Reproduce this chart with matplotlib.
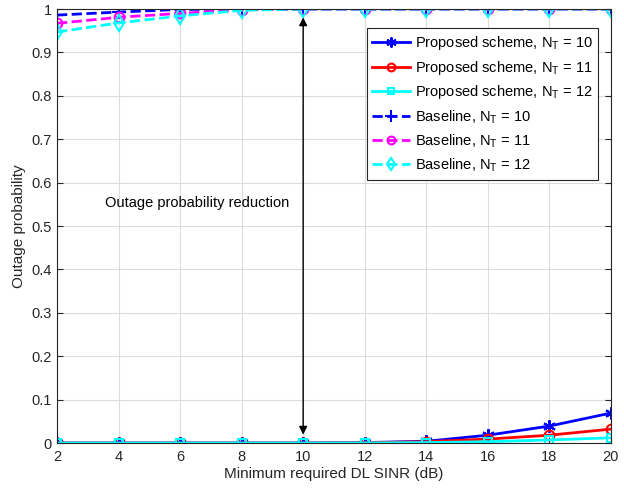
import numpy as np
import matplotlib
matplotlib.use("Agg")
import matplotlib.pyplot as plt

sinr = [2, 4, 6, 8, 10, 12, 14, 16, 18, 20]

prop_10 = [0, 0, 0, 0, 0, 0.001, 0.004, 0.018, 0.039, 0.069]
prop_11 = [0, 0, 0, 0, 0, 0.0005, 0.003, 0.009, 0.018, 0.032]
prop_12 = [0, 0, 0, 0, 0, 0.0002, 0.001, 0.003, 0.007, 0.012]

base_10 = [0.986, 0.993, 0.999, 1.0, 1.0, 1.0, 1.0, 1.0, 1.0, 1.0]
base_11 = [0.967, 0.981, 0.990, 0.998, 1.0, 1.0, 1.0, 1.0, 1.0, 1.0]
base_12 = [0.947, 0.968, 0.984, 0.997, 1.0, 1.0, 1.0, 1.0, 1.0, 1.0]

labels = ["Proposed scheme, N$_\\mathrm{T}$ = 10",
          "Proposed scheme, N$_\\mathrm{T}$ = 11",
          "Proposed scheme, N$_\\mathrm{T}$ = 12",
          "Baseline, N$_\\mathrm{T}$ = 10",
          "Baseline, N$_\\mathrm{T}$ = 11",
          "Baseline, N$_\\mathrm{T}$ = 12"]

plt.rcParams['font.family'] = ['Liberation Sans', 'DejaVu Sans']
plt.rcParams['mathtext.fontset'] = 'custom'
plt.rcParams['mathtext.rm'] = 'Liberation Sans'

fig = plt.figure(figsize=(6.24, 4.9), dpi=100)
ax = fig.add_axes([0.0913, 0.0959, 0.8877, 0.8857])

ms = 7
# MATLAB-style asterisk marker
ax.plot(sinr, prop_10, '-', color='blue', marker=(6, 2, 0), ms=ms + 2,
        mew=1.5, lw=2, label=labels[0])
ax.plot(sinr, prop_11, '-', color='red', marker='o', ms=ms, mfc='none',
        mew=1.5, lw=2, label=labels[1])
ax.plot(sinr, prop_12, '-', color='cyan', marker='s', ms=ms - 1, mfc='none',
        mew=1.5, lw=2, label=labels[2])
ax.plot(sinr, base_10, '--', color='blue', marker='+', ms=ms + 3, mew=1.5,
        lw=2, label=labels[3])
ax.plot(sinr, base_11, '--', color='magenta', marker='o', ms=ms, mfc='none',
        mew=1.5, lw=2, label=labels[4])
ax.plot(sinr, base_12, '--', color='cyan', marker='d', ms=ms + 1, mfc='none',
        mew=1.5, lw=2, label=labels[5])

ax.annotate("", xy=(10, 0.0), xytext=(10, 1.0),
            arrowprops=dict(arrowstyle="<|-|>", color='black', lw=1,
                            mutation_scale=12, shrinkA=6, shrinkB=6))
ax.text(6.55, 0.553, "Outage probability reduction", ha='center',
        va='center', fontsize=10.5)

ax.set_xlim(2, 20)
ax.set_ylim(0, 1)
ax.set_xticks(np.arange(2, 21, 2))
ax.set_yticks(np.arange(0, 1.01, 0.1))
ax.set_yticklabels(["0", "0.1", "0.2", "0.3", "0.4", "0.5", "0.6", "0.7",
                    "0.8", "0.9", "1"])
ax.grid(True, color='#dcdcdc', lw=0.8)
ax.set_axisbelow(True)
ax.tick_params(direction='in', labelsize=10.5, colors='#262626',
               top=True, right=True, length=4)
ax.tick_params(axis='x', pad=5)
for sp in ax.spines.values():
    sp.set_color('#262626')
    sp.set_linewidth(0.8)

ax.set_xlabel("Minimum required DL SINR (dB)", fontsize=11, color='#262626',
              labelpad=2)
ax.set_ylabel("Outage probability", fontsize=11, color='#262626')

leg = ax.legend(loc='upper right', bbox_to_anchor=(0.9905, 0.972),
                fontsize=10.5, fancybox=False, framealpha=1,
                edgecolor='#262626', handlelength=2.6, markerscale=0.8,
                borderpad=0.4, labelspacing=0.45, handletextpad=0.3)
leg.get_frame().set_linewidth(0.8)

fig.savefig("out.png", dpi=100)
